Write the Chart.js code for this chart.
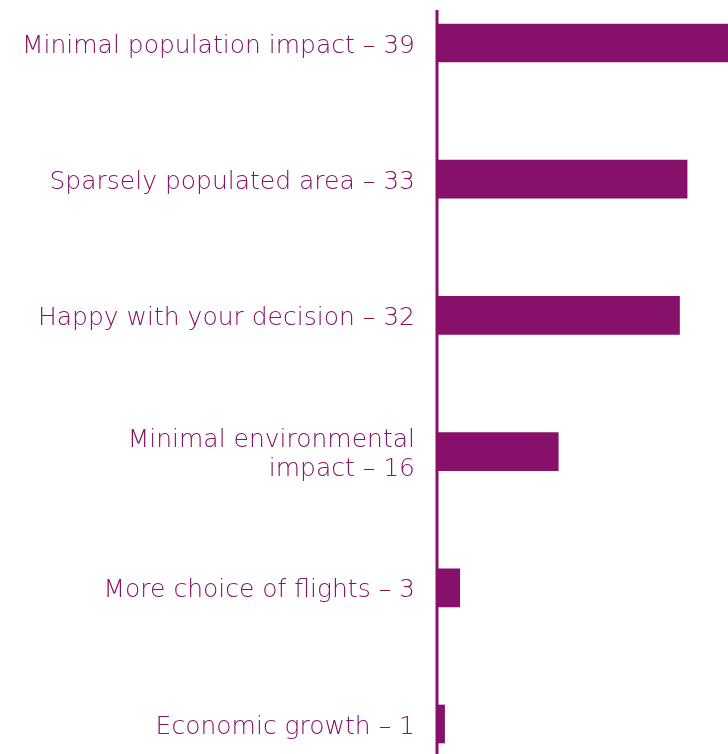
<!DOCTYPE html>
<html>
<head>
<meta charset="utf-8">
<script src="https://cdn.jsdelivr.net/npm/chart.js@4"></script>
<style>
  html, body { margin: 0; padding: 0; background: #fff; }
  #wrap { width: 728px; height: 754px; position: relative; }
</style>
</head>
<body>
<div id="wrap"><canvas id="reasonChart"></canvas></div>
<script>
const categories = [
    ['Minimal population impact'],
    ['Sparsely populated area'],
    ['Happy with your decision'],
    ['Minimal environmental', 'impact'],
    ['More choice of flights'],
    ['Economic growth']
];
const counts = [39, 33, 32, 16, 3, 1];

const barColor = '#86106A';

// label text is the category with its count added on the last line
const labels = categories.map((lines, i) => {
    const out = lines.slice();
    out[out.length - 1] = out[out.length - 1] + ' – ' + counts[i];
    return out.length === 1 ? out[0] : out;
});

const axisLine = {
    id: 'axisLine',
    beforeDatasetsDraw(chart) {
        const ctx = chart.ctx;
        const x = chart.scales.x.getPixelForValue(0);
        ctx.save();
        ctx.strokeStyle = barColor;
        ctx.lineWidth = 3;
        ctx.beginPath();
        ctx.moveTo(x, 10);
        ctx.lineTo(x, chart.height);
        ctx.stroke();
        ctx.restore();
    }
};

const ctx = document.getElementById('reasonChart').getContext('2d');
new Chart(ctx, {
    type: 'bar',
    data: {
        labels: labels,
        datasets: [{
            data: counts,
            backgroundColor: barColor,
            borderWidth: 0,
            barThickness: 38,
            clip: false
        }]
    },
    options: {
        indexAxis: 'y',
        responsive: true,
        maintainAspectRatio: false,
        animation: false,
        layout: { padding: { top: 43, bottom: 30, left: 0, right: 0 } },
        plugins: {
            legend: { display: false },
            tooltip: { enabled: false }
        },
        scales: {
            x: {
                display: false,
                min: 0,
                max: 38.4
            },
            y: {
                offset: false,
                grid: { display: false, drawTicks: false },
                border: { display: false },
                afterFit(scale) {
                    scale.width = 437;
                    scale.paddingTop = 0;
                    scale.paddingBottom = 0;
                },
                ticks: {
                    color: barColor,
                    padding: 22,
                    labelOffset: 3,
                    font: { family: 'DejaVu Sans', size: 25, weight: 200, lineHeight: 1.16 }
                }
            }
        }
    },
    plugins: [axisLine]
});
</script>
</body>
</html>
